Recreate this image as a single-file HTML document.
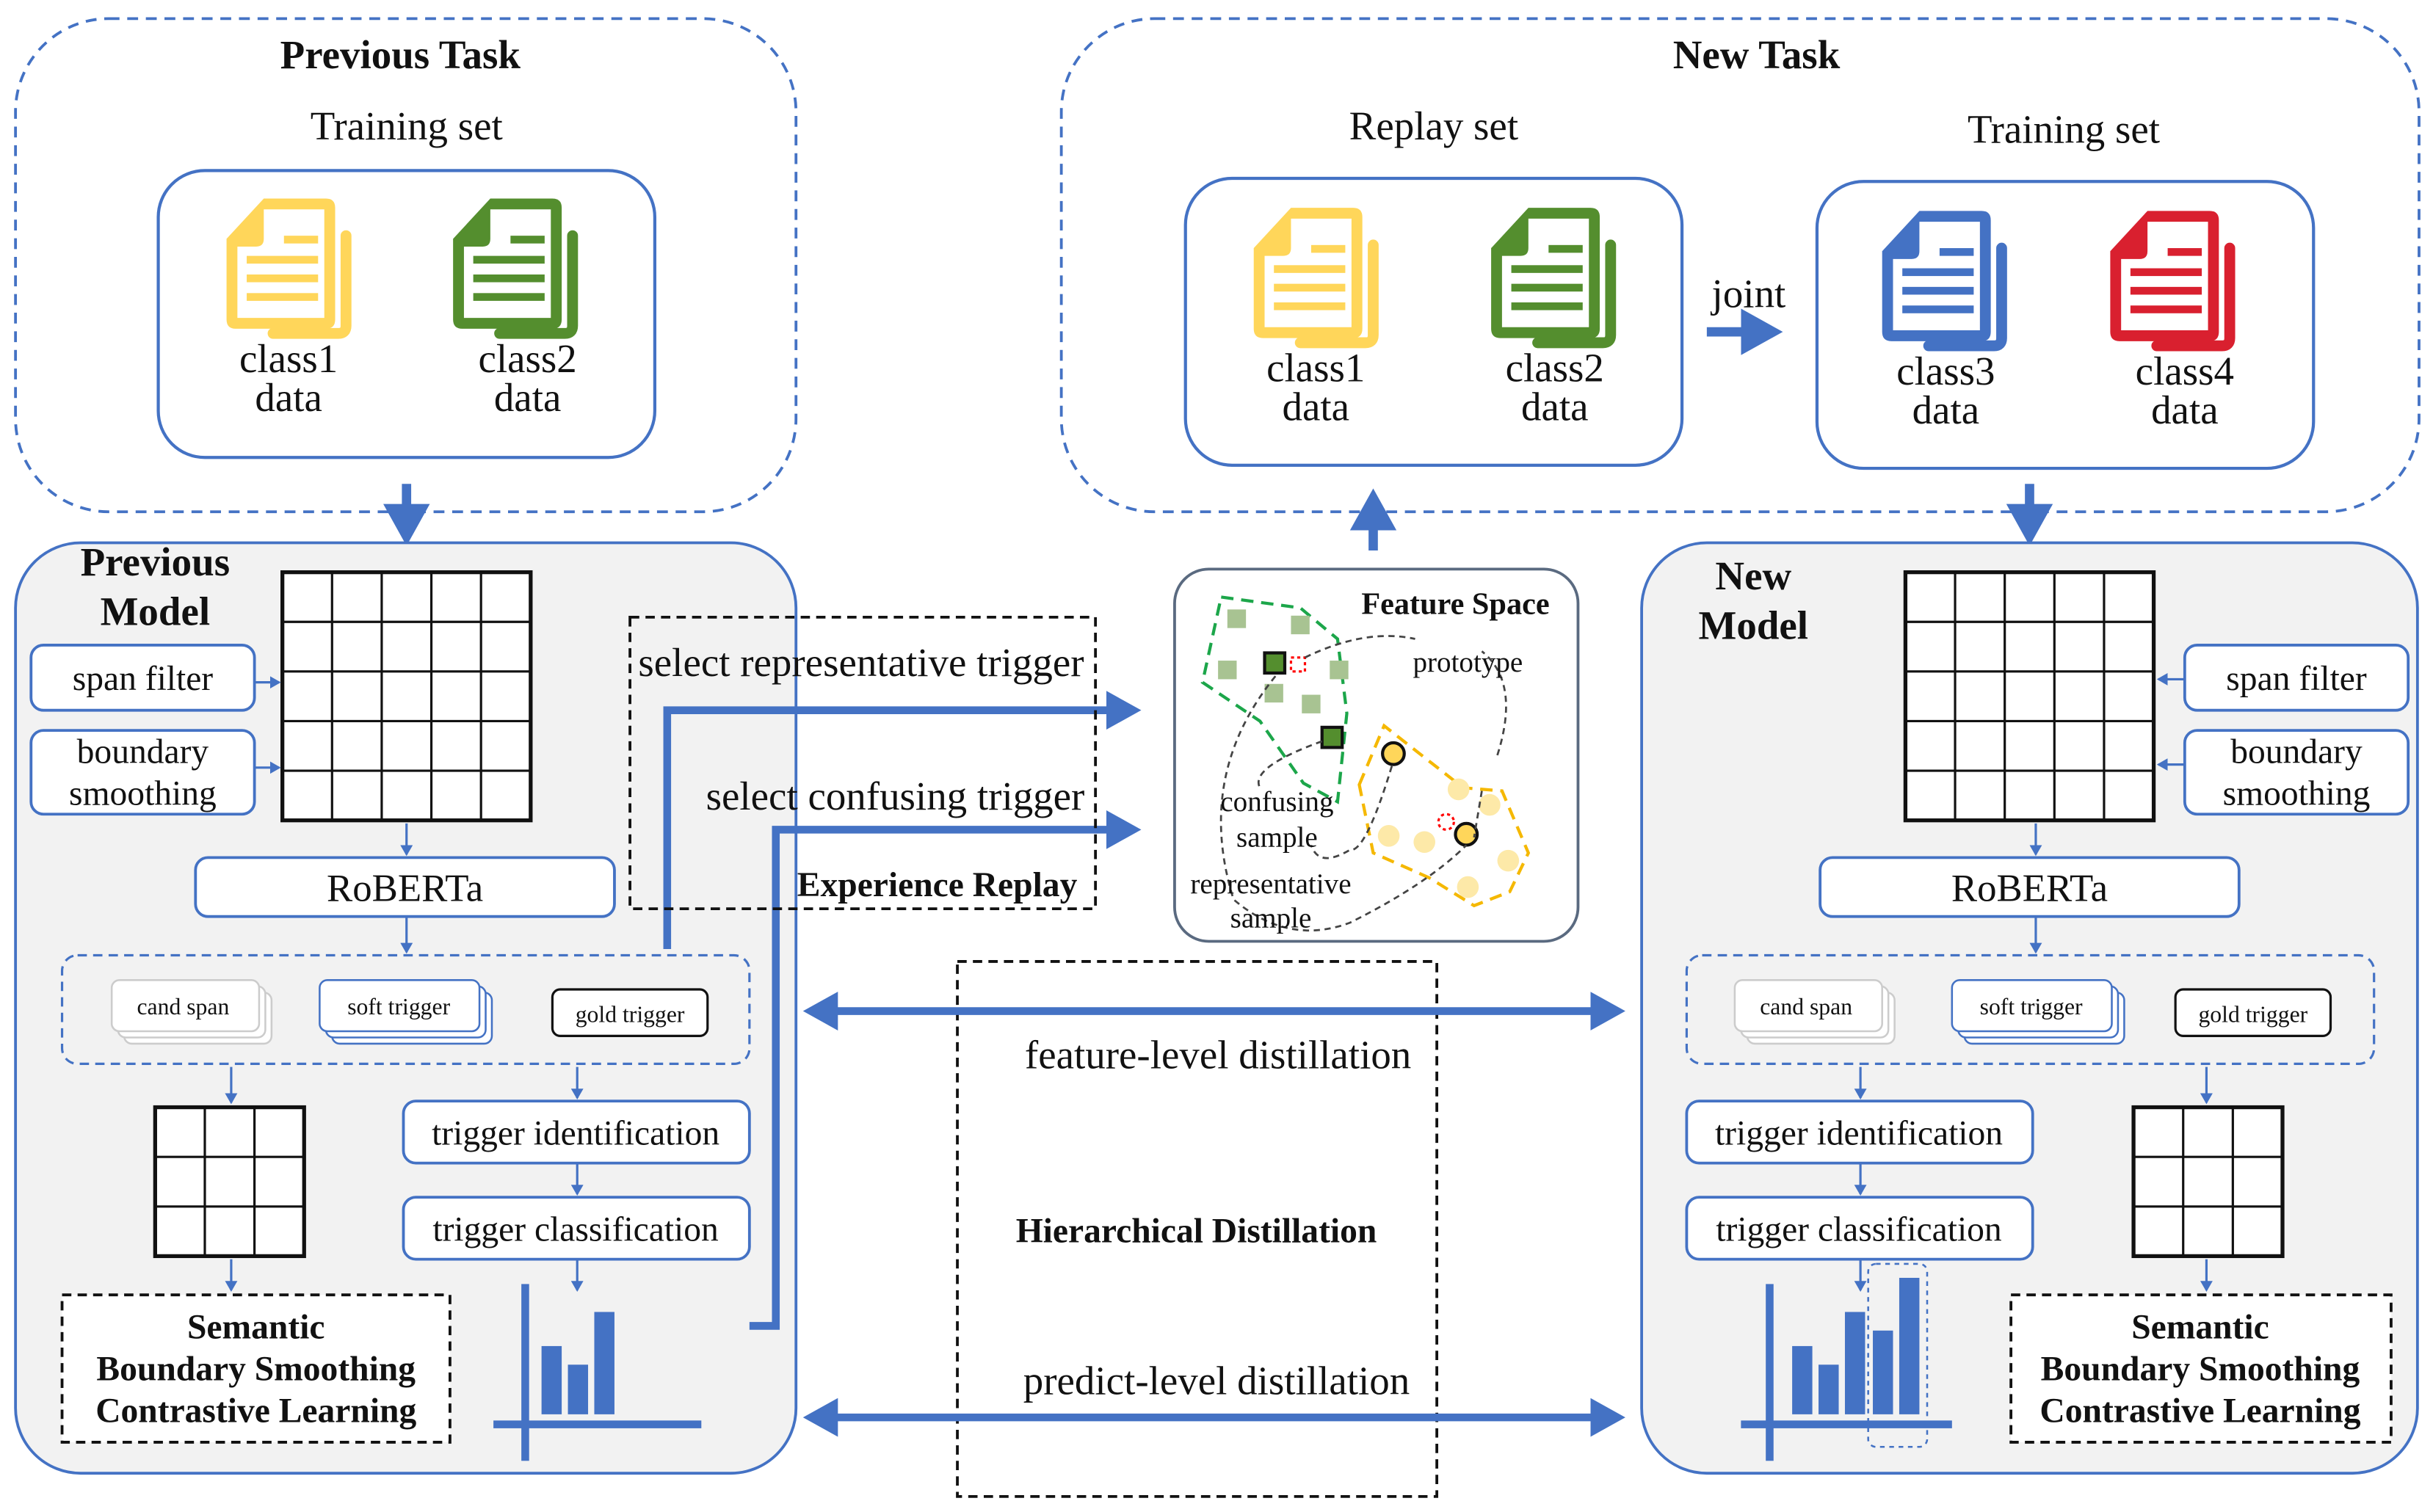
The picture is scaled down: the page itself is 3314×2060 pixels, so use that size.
<!DOCTYPE html>
<html><head><meta charset="utf-8"><style>
html,body{margin:0;padding:0;background:#fff;}
svg{display:block;}
text{font-family:"Liberation Serif",serif;fill:#111;}
.b{font-weight:bold;}
</style></head><body>
<svg width="3314" height="2060" viewBox="0 0 1568 975" preserveAspectRatio="none" xmlns="http://www.w3.org/2000/svg">
<defs>
<g id="doc">
<path d="M30,87 L72,87 Q77,87 77,82 L77,24" fill="none" stroke="currentColor" stroke-width="7" stroke-linecap="round"/>
<path d="M0,26 L24,0 L64,0 Q70,0 70,6 L70,78 Q70,84 64,84 L6,84 Q0,84 0,78 Z" fill="currentColor"/>
<path d="M24,7 L63,7 L63,77 L7,77 L7,31 L19,31 Q24,31 24,26 Z" fill="#fff"/>
<rect x="37" y="24" width="22" height="5" fill="currentColor"/>
<rect x="13" y="37" width="46" height="5" fill="currentColor"/>
<rect x="13" y="49" width="46" height="5" fill="currentColor"/>
<rect x="13" y="61" width="46" height="5" fill="currentColor"/>
</g>
<marker id="ah" markerWidth="6" markerHeight="6" refX="3" refY="3" orient="auto" markerUnits="strokeWidth"><path d="M0,0.5 L4.5,3 L0,5.5 Z" fill="#4472C4"/></marker>
<marker id="ah2" markerWidth="6" markerHeight="6" refX="2" refY="3" orient="auto-start-reverse" markerUnits="strokeWidth"><path d="M0,0.5 L4.5,3 L0,5.5 Z" fill="#4472C4"/></marker>
<marker id="sa" markerWidth="8" markerHeight="8" refX="6" refY="4" orient="auto" markerUnits="userSpaceOnUse"><path d="M0,0 L7,4 L0,8 Z" fill="#4472C4"/></marker>
</defs>

<!-- Previous Task -->
<rect x="10" y="12" width="503" height="318" rx="60" fill="none" stroke="#4472C4" stroke-width="1.8" stroke-dasharray="7,5"/>
<text x="258" y="44" font-size="26" text-anchor="middle" class="b">Previous Task</text>
<text x="262" y="90" font-size="26" text-anchor="middle">Training set</text>
<rect x="102" y="110" width="320" height="185" rx="30" fill="#fff" stroke="#4472C4" stroke-width="2"/>
<use href="#doc" x="146" y="128" style="color:#FFD65A"/>
<use href="#doc" x="292" y="128" style="color:#548E2E"/>
<text x="186" y="240" font-size="26" text-anchor="middle">class1</text>
<text x="186" y="265" font-size="26" text-anchor="middle">data</text>
<text x="340" y="240" font-size="26" text-anchor="middle">class2</text>
<text x="340" y="265" font-size="26" text-anchor="middle">data</text>

<!-- New Task -->
<rect x="684" y="12" width="875" height="318" rx="60" fill="none" stroke="#4472C4" stroke-width="1.8" stroke-dasharray="7,5"/>
<text x="1132" y="44" font-size="26" text-anchor="middle" class="b">New Task</text>
<text x="924" y="90" font-size="26" text-anchor="middle">Replay set</text>
<text x="1330" y="92" font-size="26" text-anchor="middle">Training set</text>
<rect x="764" y="115" width="320" height="185" rx="30" fill="#fff" stroke="#4472C4" stroke-width="2"/>
<rect x="1171" y="117" width="320" height="185" rx="30" fill="#fff" stroke="#4472C4" stroke-width="2"/>
<use href="#doc" x="808" y="134" style="color:#FFD65A"/>
<use href="#doc" x="961" y="134" style="color:#548E2E"/>
<use href="#doc" x="1213" y="136" style="color:#4472C4"/>
<use href="#doc" x="1360" y="136" style="color:#D9202F"/>
<text x="848" y="246" font-size="26" text-anchor="middle">class1</text>
<text x="848" y="271" font-size="26" text-anchor="middle">data</text>
<text x="1002" y="246" font-size="26" text-anchor="middle">class2</text>
<text x="1002" y="271" font-size="26" text-anchor="middle">data</text>
<text x="1254" y="248" font-size="26" text-anchor="middle">class3</text>
<text x="1254" y="273" font-size="26" text-anchor="middle">data</text>
<text x="1408" y="248" font-size="26" text-anchor="middle">class4</text>
<text x="1408" y="273" font-size="26" text-anchor="middle">data</text>
<text x="1127" y="198" font-size="26" text-anchor="middle">joint</text>
<line x1="1100" y1="214" x2="1140" y2="214" stroke="#4472C4" stroke-width="6" marker-end="url(#ah)"/>

<!-- vertical thick arrows -->
<line x1="262" y1="312" x2="262" y2="343" stroke="#4472C4" stroke-width="6" marker-end="url(#ah)"/>
<line x1="1308" y1="312" x2="1308" y2="343" stroke="#4472C4" stroke-width="6" marker-end="url(#ah)"/>
<line x1="885" y1="355" x2="885" y2="324" stroke="#4472C4" stroke-width="6" marker-end="url(#ah)"/>

<!-- Previous Model panel -->
<rect x="10" y="350" width="503" height="600" rx="42" fill="#f2f2f2" stroke="#4472C4" stroke-width="1.8"/>
<text x="100" y="371" font-size="26" text-anchor="middle" class="b">Previous</text>
<text x="100" y="403" font-size="26" text-anchor="middle" class="b">Model</text>
<g stroke="#111" stroke-width="1.5" fill="#fff">
<rect x="182" y="369" width="160" height="160" stroke-width="2.5"/>
<path d="M214,369V529M246,369V529M278,369V529M310,369V529M182,401H342M182,433H342M182,465H342M182,497H342" fill="none"/>
</g>
<rect x="20" y="416" width="144" height="42" rx="8" fill="#fff" stroke="#4472C4" stroke-width="1.8"/>
<text x="92" y="445" font-size="22.5" text-anchor="middle">span filter</text>
<rect x="20" y="471" width="144" height="54" rx="8" fill="#fff" stroke="#4472C4" stroke-width="1.8"/>
<text x="92" y="492" font-size="22.5" text-anchor="middle">boundary</text>
<text x="92" y="519" font-size="22.5" text-anchor="middle">smoothing</text>
<line x1="164" y1="440" x2="180" y2="440" stroke="#4472C4" stroke-width="1.5" marker-end="url(#sa)"/>
<line x1="164" y1="495" x2="180" y2="495" stroke="#4472C4" stroke-width="1.5" marker-end="url(#sa)"/>
<line x1="262" y1="531" x2="262" y2="551" stroke="#4472C4" stroke-width="1.5" marker-end="url(#sa)"/>
<rect x="126" y="553" width="270" height="38" rx="8" fill="#fff" stroke="#4472C4" stroke-width="1.8"/>
<text x="261" y="581" font-size="25" text-anchor="middle">RoBERTa</text>
<line x1="262" y1="591" x2="262" y2="614" stroke="#4472C4" stroke-width="1.5" marker-end="url(#sa)"/>
<rect x="40" y="616" width="443" height="70" rx="10" fill="none" stroke="#4472C4" stroke-width="1.5" stroke-dasharray="6,4"/>
<g fill="#fff" stroke="#ccc" stroke-width="1.2">
<rect x="80" y="640" width="95" height="33" rx="5"/><rect x="76" y="636" width="95" height="33" rx="5"/><rect x="72" y="632" width="95" height="33" rx="5"/>
</g>
<text x="118" y="654" font-size="15" text-anchor="middle">cand span</text>
<g fill="#fff" stroke="#4472C4" stroke-width="1.2">
<rect x="214" y="640" width="103" height="33" rx="5"/><rect x="210" y="636" width="103" height="33" rx="5"/><rect x="206" y="632" width="103" height="33" rx="5"/>
</g>
<text x="257" y="654" font-size="15" text-anchor="middle">soft trigger</text>
<rect x="356" y="638" width="100" height="30" rx="5" fill="#fff" stroke="#111" stroke-width="1.5"/>
<text x="406" y="659" font-size="15" text-anchor="middle">gold trigger</text>
<line x1="149" y1="688" x2="149" y2="711" stroke="#4472C4" stroke-width="1.5" marker-end="url(#sa)"/>
<line x1="372" y1="688" x2="372" y2="708" stroke="#4472C4" stroke-width="1.5" marker-end="url(#sa)"/>
<g stroke="#111" stroke-width="1.5" fill="#fff">
<rect x="100" y="714" width="96" height="96" stroke-width="2.5"/>
<path d="M132,714V810M164,714V810M100,746H196M100,778H196" fill="none"/>
</g>
<line x1="149" y1="812" x2="149" y2="832" stroke="#4472C4" stroke-width="1.5" marker-end="url(#sa)"/>
<rect x="260" y="710" width="223" height="40" rx="8" fill="#fff" stroke="#4472C4" stroke-width="1.8"/>
<text x="371" y="738" font-size="22.5" text-anchor="middle">trigger identification</text>
<line x1="372" y1="750" x2="372" y2="770" stroke="#4472C4" stroke-width="1.5" marker-end="url(#sa)"/>
<rect x="260" y="772" width="223" height="40" rx="8" fill="#fff" stroke="#4472C4" stroke-width="1.8"/>
<text x="371" y="800" font-size="22.5" text-anchor="middle">trigger classification</text>
<line x1="372" y1="812" x2="372" y2="832" stroke="#4472C4" stroke-width="1.5" marker-end="url(#sa)"/>
<rect x="40" y="835" width="250" height="95" fill="#fff" stroke="#111" stroke-width="1.8" stroke-dasharray="6,4"/>
<text x="165" y="863" font-size="22.5" text-anchor="middle" class="b">Semantic</text>
<text x="165" y="890" font-size="22.5" text-anchor="middle" class="b">Boundary Smoothing</text>
<text x="165" y="917" font-size="22.5" text-anchor="middle" class="b">Contrastive Learning</text>
<g fill="#4472C4">
<rect x="336" y="828" width="5" height="114"/><rect x="318" y="916" width="134" height="5"/>
<rect x="349" y="868" width="13" height="44"/><rect x="366" y="880" width="13" height="32"/><rect x="383" y="846" width="13" height="66"/>
</g>

<!-- connectors -->
<path d="M430,612 V458 H728" fill="none" stroke="#4472C4" stroke-width="5" marker-end="url(#ah)"/>
<path d="M483,855 H500 V535 H728" fill="none" stroke="#4472C4" stroke-width="5" marker-end="url(#ah)"/>

<!-- Experience Replay -->
<rect x="406" y="398" width="300" height="188" fill="none" stroke="#111" stroke-width="1.8" stroke-dasharray="6,4"/>
<text x="555" y="436" font-size="26" text-anchor="middle">select representative trigger</text>
<text x="577" y="522" font-size="26" text-anchor="middle">select confusing trigger</text>
<text x="604" y="578" font-size="22.5" text-anchor="middle" class="b">Experience Replay</text>

<!-- Feature Space -->
<rect x="757" y="367" width="260" height="240" rx="22" fill="#fff" stroke="#5a6a80" stroke-width="1.8"/>
<text x="938" y="396" font-size="20" text-anchor="middle" class="b">Feature Space</text>
<path d="M787,385 L838,392 L862,412 L868,460 L862,517 L840,505 L812,465 L775,440 Z" fill="none" stroke="#1CA64A" stroke-width="2" stroke-dasharray="8,5"/>
<path d="M876,506 L892,468 L920,490 L943,508 L968,510 L985,550 L973,575 L950,584 L921,566 L885,550 Z" fill="none" stroke="#F5B800" stroke-width="2" stroke-dasharray="8,5"/>
<g fill="#a8c392"><rect x="791" y="393" width="12" height="12"/><rect x="832" y="397" width="12" height="12"/><rect x="785" y="426" width="12" height="12"/><rect x="857" y="426" width="12" height="12"/><rect x="815" y="441" width="12" height="12"/><rect x="839" y="448" width="12" height="12"/></g>
<rect x="815" y="421" width="13" height="13" fill="#548E2E" stroke="#111" stroke-width="2"/>
<rect x="852" y="469" width="13" height="13" fill="#548E2E" stroke="#111" stroke-width="2"/>
<rect x="832" y="424" width="9" height="9" fill="none" stroke="red" stroke-width="1.5" stroke-dasharray="2,2"/>
<g fill="#fde9a8"><circle cx="940" cy="509" r="7"/><circle cx="960" cy="519" r="7"/><circle cx="895" cy="539" r="7"/><circle cx="918" cy="543" r="7"/><circle cx="972" cy="555" r="7"/><circle cx="946" cy="572" r="7"/></g>
<circle cx="898" cy="486" r="7" fill="#FFD65A" stroke="#111" stroke-width="2"/>
<circle cx="945" cy="538" r="7" fill="#FFD65A" stroke="#111" stroke-width="2"/>
<circle cx="932" cy="530" r="5" fill="none" stroke="red" stroke-width="1.5" stroke-dasharray="2,2"/>
<g fill="none" stroke="#444" stroke-width="1.3" stroke-dasharray="4,3">
<path d="M841,424 Q880,405 912,412"/>
<path d="M965,487 Q980,440 955,420"/>
<path d="M955,510 L950,540"/>
<path d="M822,436 Q770,500 795,580 Q830,610 870,595 Q920,570 945,545"/>
<path d="M852,478 Q805,495 812,508"/>
<path d="M897,494 Q880,550 870,548 Q850,560 845,545"/>
</g>
<text x="946" y="433" font-size="18.5" text-anchor="middle">prototype</text>
<text x="823" y="523" font-size="18.5" text-anchor="middle">confusing</text>
<text x="823" y="546" font-size="18.5" text-anchor="middle">sample</text>
<text x="819" y="576" font-size="18.5" text-anchor="middle">representative</text>
<text x="819" y="598" font-size="18.5" text-anchor="middle">sample</text>

<!-- Hierarchical Distillation -->
<rect x="617" y="620" width="309" height="345" fill="none" stroke="#111" stroke-width="1.8" stroke-dasharray="6,4"/>
<line x1="530" y1="652" x2="1040" y2="652" stroke="#4472C4" stroke-width="5" marker-start="url(#ah2)" marker-end="url(#ah)"/>
<line x1="530" y1="914" x2="1040" y2="914" stroke="#4472C4" stroke-width="5" marker-start="url(#ah2)" marker-end="url(#ah)"/>
<text x="785" y="689" font-size="26" text-anchor="middle">feature-level distillation</text>
<text x="771" y="801" font-size="22.5" text-anchor="middle" class="b">Hierarchical Distillation</text>
<text x="784" y="899" font-size="26" text-anchor="middle">predict-level distillation</text>

<!-- New Model panel -->
<rect x="1058" y="350" width="500" height="600" rx="42" fill="#f2f2f2" stroke="#4472C4" stroke-width="1.8"/>
<text x="1130" y="380" font-size="26" text-anchor="middle" class="b">New</text>
<text x="1130" y="412" font-size="26" text-anchor="middle" class="b">Model</text>
<g stroke="#111" stroke-width="1.5" fill="#fff">
<rect x="1228" y="369" width="160" height="160" stroke-width="2.5"/>
<path d="M1260,369V529M1292,369V529M1324,369V529M1356,369V529M1228,401H1388M1228,433H1388M1228,465H1388M1228,497H1388" fill="none"/>
</g>
<rect x="1408" y="416" width="144" height="42" rx="8" fill="#fff" stroke="#4472C4" stroke-width="1.8"/>
<text x="1480" y="445" font-size="22.5" text-anchor="middle">span filter</text>
<rect x="1408" y="471" width="144" height="54" rx="8" fill="#fff" stroke="#4472C4" stroke-width="1.8"/>
<text x="1480" y="492" font-size="22.5" text-anchor="middle">boundary</text>
<text x="1480" y="519" font-size="22.5" text-anchor="middle">smoothing</text>
<line x1="1408" y1="438" x2="1391" y2="438" stroke="#4472C4" stroke-width="1.5" marker-end="url(#sa)"/>
<line x1="1408" y1="493" x2="1391" y2="493" stroke="#4472C4" stroke-width="1.5" marker-end="url(#sa)"/>
<line x1="1312" y1="531" x2="1312" y2="551" stroke="#4472C4" stroke-width="1.5" marker-end="url(#sa)"/>
<rect x="1173" y="553" width="270" height="38" rx="8" fill="#fff" stroke="#4472C4" stroke-width="1.8"/>
<text x="1308" y="581" font-size="25" text-anchor="middle">RoBERTa</text>
<line x1="1312" y1="591" x2="1312" y2="614" stroke="#4472C4" stroke-width="1.5" marker-end="url(#sa)"/>
<rect x="1087" y="616" width="443" height="70" rx="10" fill="none" stroke="#4472C4" stroke-width="1.5" stroke-dasharray="6,4"/>
<g fill="#fff" stroke="#ccc" stroke-width="1.2">
<rect x="1126" y="640" width="95" height="33" rx="5"/><rect x="1122" y="636" width="95" height="33" rx="5"/><rect x="1118" y="632" width="95" height="33" rx="5"/>
</g>
<text x="1164" y="654" font-size="15" text-anchor="middle">cand span</text>
<g fill="#fff" stroke="#4472C4" stroke-width="1.2">
<rect x="1266" y="640" width="103" height="33" rx="5"/><rect x="1262" y="636" width="103" height="33" rx="5"/><rect x="1258" y="632" width="103" height="33" rx="5"/>
</g>
<text x="1309" y="654" font-size="15" text-anchor="middle">soft trigger</text>
<rect x="1402" y="638" width="100" height="30" rx="5" fill="#fff" stroke="#111" stroke-width="1.5"/>
<text x="1452" y="659" font-size="15" text-anchor="middle">gold trigger</text>
<line x1="1199" y1="688" x2="1199" y2="708" stroke="#4472C4" stroke-width="1.5" marker-end="url(#sa)"/>
<line x1="1422" y1="688" x2="1422" y2="711" stroke="#4472C4" stroke-width="1.5" marker-end="url(#sa)"/>
<rect x="1087" y="710" width="223" height="40" rx="8" fill="#fff" stroke="#4472C4" stroke-width="1.8"/>
<text x="1198" y="738" font-size="22.5" text-anchor="middle">trigger identification</text>
<line x1="1199" y1="750" x2="1199" y2="770" stroke="#4472C4" stroke-width="1.5" marker-end="url(#sa)"/>
<rect x="1087" y="772" width="223" height="40" rx="8" fill="#fff" stroke="#4472C4" stroke-width="1.8"/>
<text x="1198" y="800" font-size="22.5" text-anchor="middle">trigger classification</text>
<line x1="1199" y1="812" x2="1199" y2="832" stroke="#4472C4" stroke-width="1.5" marker-end="url(#sa)"/>
<g stroke="#111" stroke-width="1.5" fill="#fff">
<rect x="1375" y="714" width="96" height="96" stroke-width="2.5"/>
<path d="M1407,714V810M1439,714V810M1375,746H1471M1375,778H1471" fill="none"/>
</g>
<line x1="1422" y1="812" x2="1422" y2="832" stroke="#4472C4" stroke-width="1.5" marker-end="url(#sa)"/>
<rect x="1296" y="835" width="245" height="95" fill="#fff" stroke="#111" stroke-width="1.8" stroke-dasharray="6,4"/>
<text x="1418" y="863" font-size="22.5" text-anchor="middle" class="b">Semantic</text>
<text x="1418" y="890" font-size="22.5" text-anchor="middle" class="b">Boundary Smoothing</text>
<text x="1418" y="917" font-size="22.5" text-anchor="middle" class="b">Contrastive Learning</text>
<g fill="#4472C4">
<rect x="1138" y="828" width="5" height="114"/><rect x="1122" y="916" width="136" height="5"/>
<rect x="1155" y="868" width="13" height="44"/><rect x="1172" y="880" width="13" height="32"/><rect x="1189" y="846" width="13" height="66"/><rect x="1207" y="858" width="13" height="54"/><rect x="1224" y="824" width="13" height="88"/>
</g>
<rect x="1204" y="815" width="38" height="118" rx="5" fill="none" stroke="#4472C4" stroke-width="1.2" stroke-dasharray="3,3"/>
</svg>
</body></html>
